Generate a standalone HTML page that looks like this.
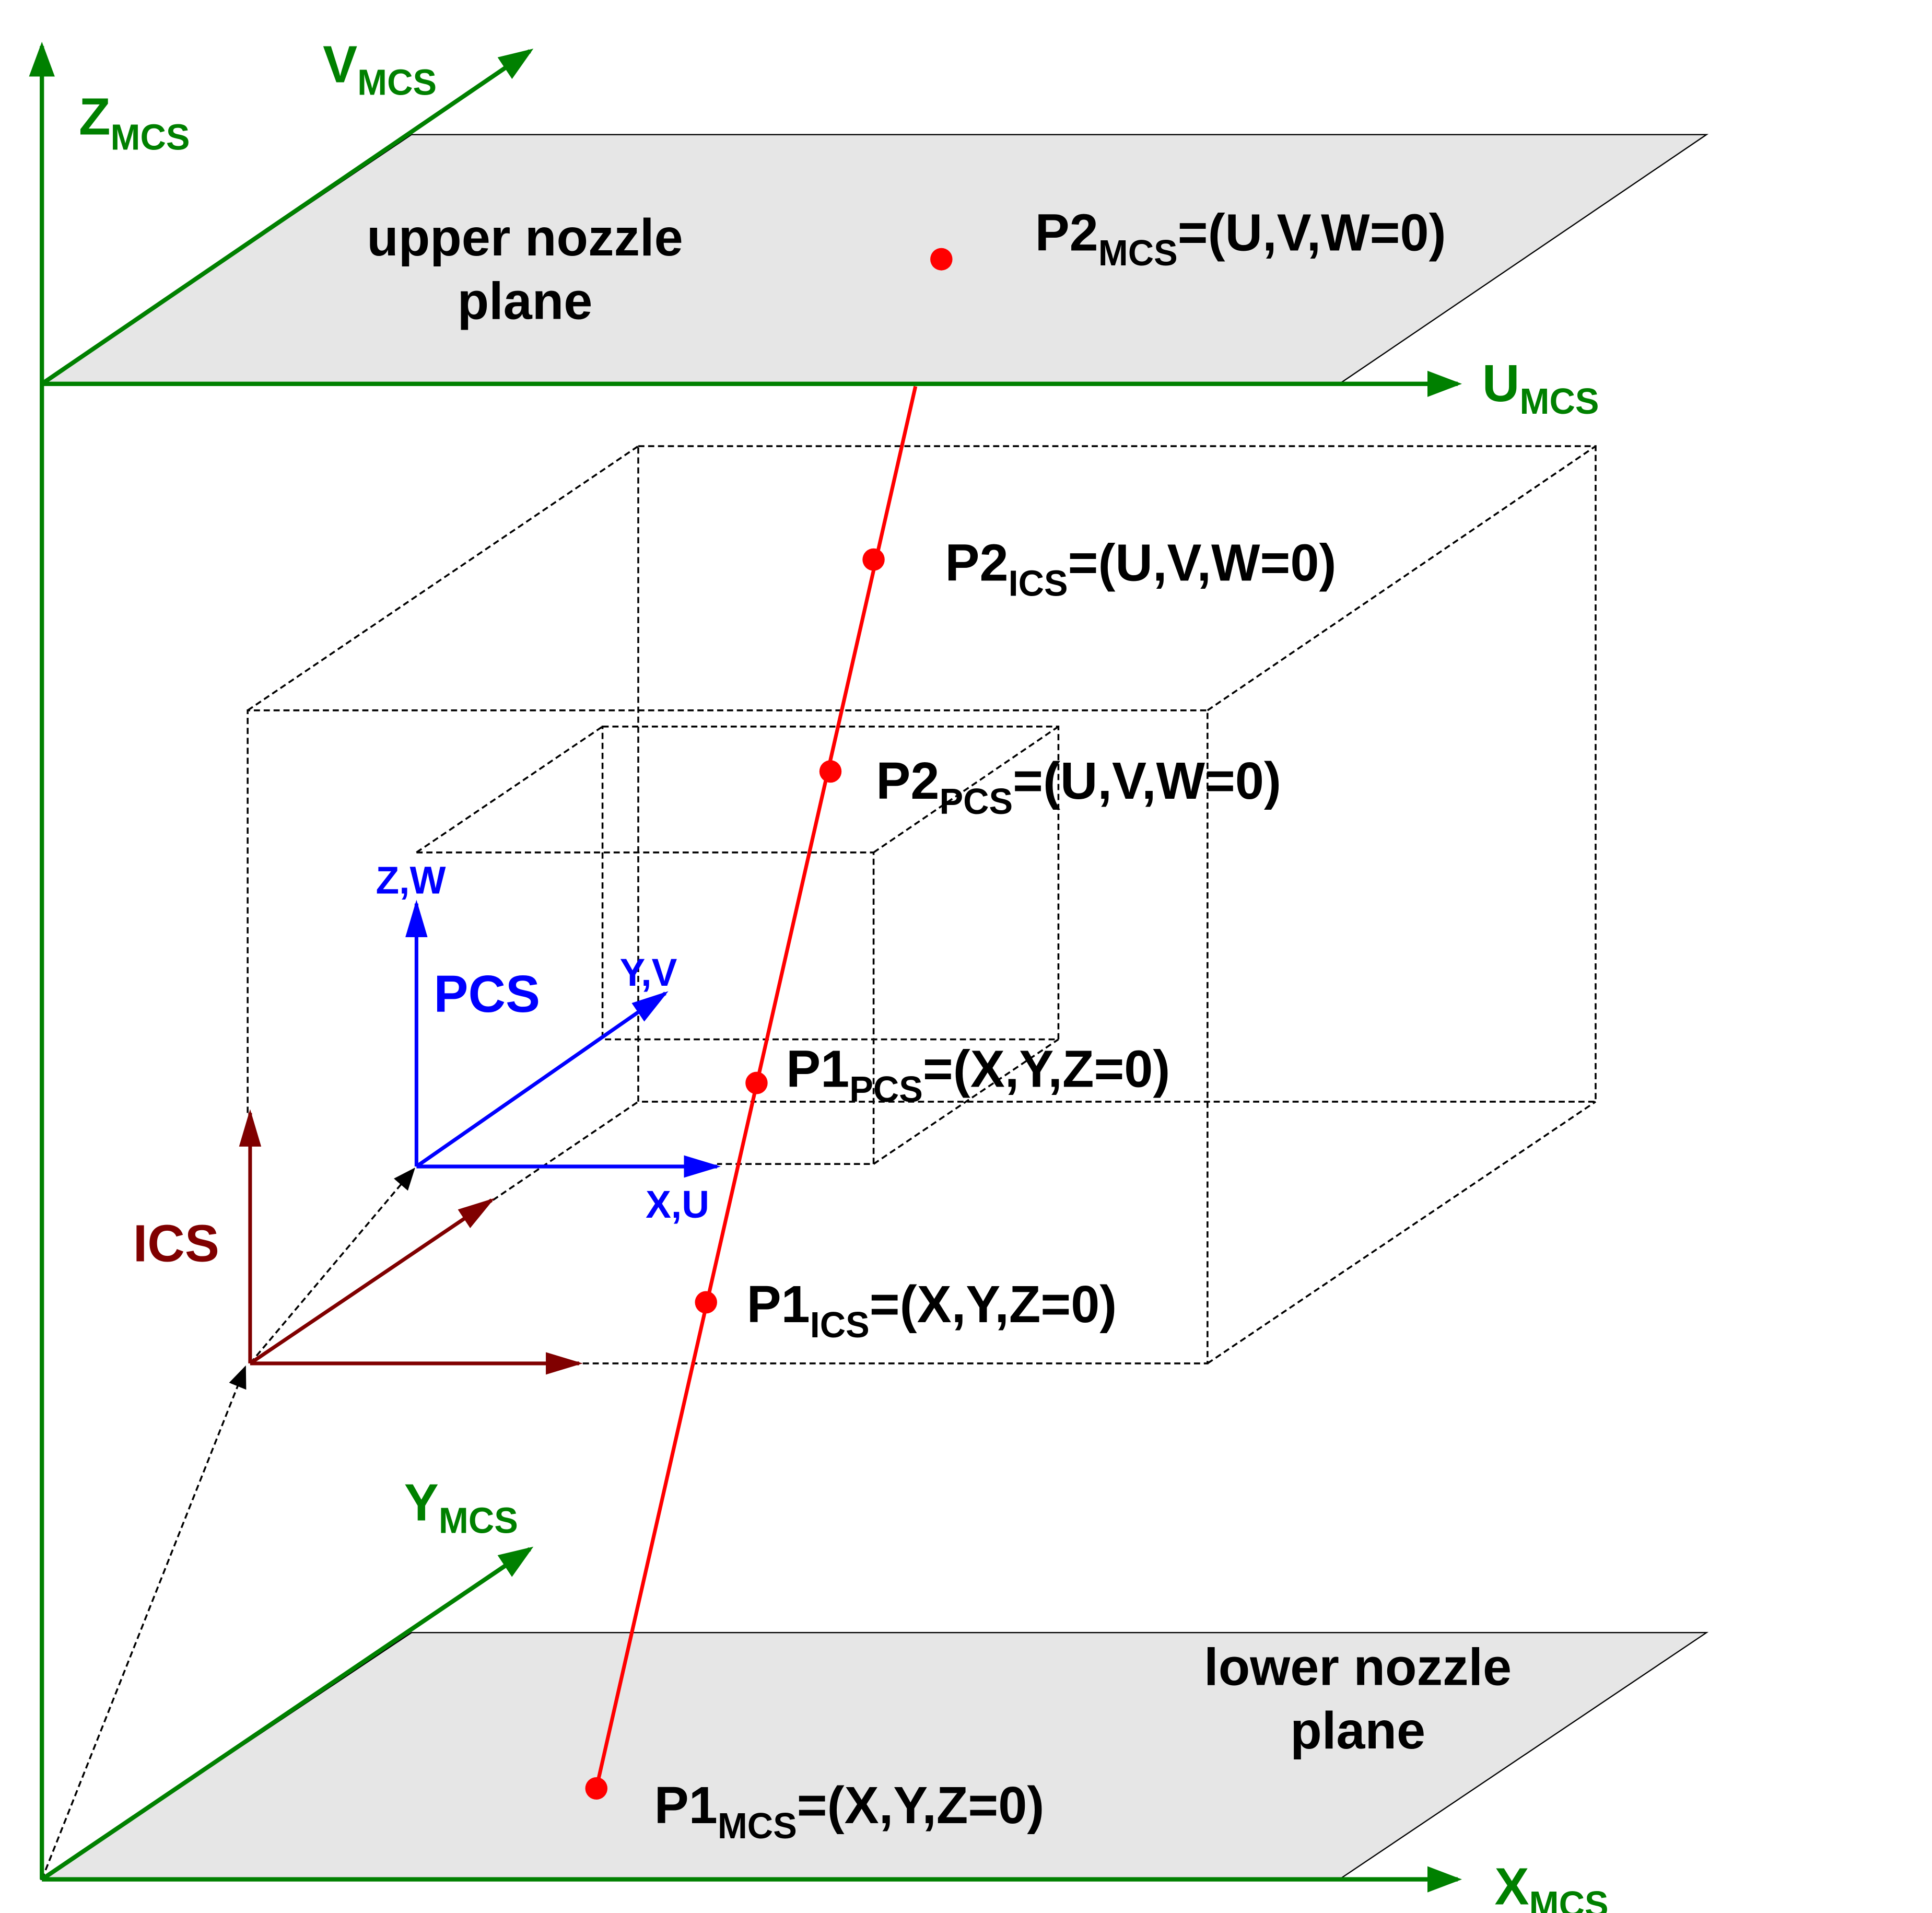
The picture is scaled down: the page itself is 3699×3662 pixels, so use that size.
<!DOCTYPE html>
<html><head><meta charset="utf-8"><style>html,body{margin:0;padding:0;background:#fff}svg{display:block}</style></head>
<body>
<svg width="3699" height="3662" viewBox="0 0 1568 1535" preserveAspectRatio="none" xmlns="http://www.w3.org/2000/svg" font-family="Liberation Sans, Arial, sans-serif" font-weight="bold">
<defs>
<marker id="g" markerWidth="8" markerHeight="6" refX="7" refY="3" orient="auto" markerUnits="strokeWidth"><path d="M0,0 L8,3 L0,6 z" fill="#008000"/></marker>
<marker id="r" markerWidth="10" markerHeight="6" refX="9" refY="3" orient="auto" markerUnits="strokeWidth"><path d="M0,0 L10,3 L0,6 z" fill="#800000"/></marker>
<marker id="b" markerWidth="10" markerHeight="6" refX="9" refY="3" orient="auto" markerUnits="strokeWidth"><path d="M0,0 L10,3 L0,6 z" fill="#0000ff"/></marker>
<marker id="k" markerWidth="12" markerHeight="10" refX="11" refY="5" orient="auto" markerUnits="strokeWidth"><path d="M0,0 L12,5 L0,10 z" fill="#000"/></marker>
</defs>
<rect width="1568" height="1535" fill="#fff"/>
<polygon points="34,308 334,108 1385,108 1087,308" fill="#e6e6e6" stroke="#000" stroke-width="1"/>
<polygon points="34,1508 334,1310 1385,1310 1087,1508" fill="#e6e6e6" stroke="#000" stroke-width="1"/>
<g fill="none" stroke="#000" stroke-width="1.5" stroke-dasharray="5,3">
<path d="M201,893 L201,570 L980,570 L980,1094 L470,1094"/>
<path d="M518,358 L1295,358 L1295,884 L518,884 Z"/>
<path d="M201,570 L518,358 M980,570 L1295,358 M980,1094 L1295,884 M400,963 L518,884"/>
<path d="M338,684 L709,684 L709,934 L582,934"/>
<path d="M489,583 L859,583 L859,834 L489,834 Z"/>
<path d="M338,684 L489,583 M709,684 L859,583 M709,934 L859,834"/>
<path d="M34,1508 L199,1097" marker-end="url(#k)"/>
<path d="M203,1094 L336,938" marker-end="url(#k)"/>
</g>
<g stroke="#008000" stroke-width="3.5" fill="none">
<path d="M34,1508 L34,37" marker-end="url(#g)"/>
<path d="M34,308 L1183,308" marker-end="url(#g)"/>
<path d="M34,308 L430,41" marker-end="url(#g)"/>
<path d="M34,1508 L1183,1508" marker-end="url(#g)"/>
<path d="M34,1508 L430,1243" marker-end="url(#g)"/>
</g>
<g stroke="#800000" stroke-width="3" fill="none">
<path d="M203,1094 L203,893" marker-end="url(#r)"/>
<path d="M203,1094 L470,1094" marker-end="url(#r)"/>
<path d="M203,1094 L399,963" marker-end="url(#r)"/>
</g>
<g stroke="#0000ff" stroke-width="3" fill="none">
<path d="M338,936 L338,725" marker-end="url(#b)"/>
<path d="M338,936 L582,936" marker-end="url(#b)"/>
<path d="M338,936 L540,797" marker-end="url(#b)"/>
</g>
<line x1="743" y1="310" x2="484" y2="1435" stroke="#ff0000" stroke-width="3"/>
<g fill="#ff0000">
<circle cx="764" cy="208" r="9"/><circle cx="709" cy="449" r="9"/><circle cx="674" cy="619" r="9"/>
<circle cx="614" cy="869" r="9"/><circle cx="573" cy="1045" r="9"/><circle cx="484" cy="1435" r="9"/>
</g>
<g fill="#008000" font-size="42">
<text x="64" y="108">Z<tspan font-size="29" dy="12">MCS</tspan></text>
<text x="262" y="66">V<tspan font-size="29" dy="10">MCS</tspan></text>
<text x="1203" y="322">U<tspan font-size="29" dy="10">MCS</tspan></text>
<text x="328" y="1220">Y<tspan font-size="29" dy="10">MCS</tspan></text>
<text x="1213" y="1528">X<tspan font-size="29" dy="10">MCS</tspan></text>
</g>
<g fill="#000" font-size="42">
<text x="426" y="205" text-anchor="middle">upper nozzle</text>
<text x="426" y="256" text-anchor="middle">plane</text>
<text x="1102" y="1352" text-anchor="middle">lower nozzle</text>
<text x="1102" y="1403" text-anchor="middle">plane</text>
<text x="840" y="201">P2<tspan font-size="29" dy="12">MCS</tspan><tspan dy="-12">=(U,V,W=0)</tspan></text>
<text x="767" y="466">P2<tspan font-size="29" dy="12">ICS</tspan><tspan dy="-12">=(U,V,W=0)</tspan></text>
<text x="711" y="641">P2<tspan font-size="29" dy="12">PCS</tspan><tspan dy="-12">=(U,V,W=0)</tspan></text>
<text x="638" y="872">P1<tspan font-size="29" dy="12">PCS</tspan><tspan dy="-12">=(X,Y,Z=0)</tspan></text>
<text x="606" y="1061">P1<tspan font-size="29" dy="12">ICS</tspan><tspan dy="-12">=(X,Y,Z=0)</tspan></text>
<text x="531" y="1463">P1<tspan font-size="29" dy="12">MCS</tspan><tspan dy="-12">=(X,Y,Z=0)</tspan></text>
</g>
<g fill="#0000ff">
<text x="305" y="717" font-size="31">Z,W</text>
<text x="503" y="791" font-size="31">Y,V</text>
<text x="524" y="977" font-size="31">X,U</text>
<text x="352" y="812" font-size="42">PCS</text>
</g>
<text x="108" y="1012" fill="#800000" font-size="42">ICS</text>
</svg>
</body></html>
